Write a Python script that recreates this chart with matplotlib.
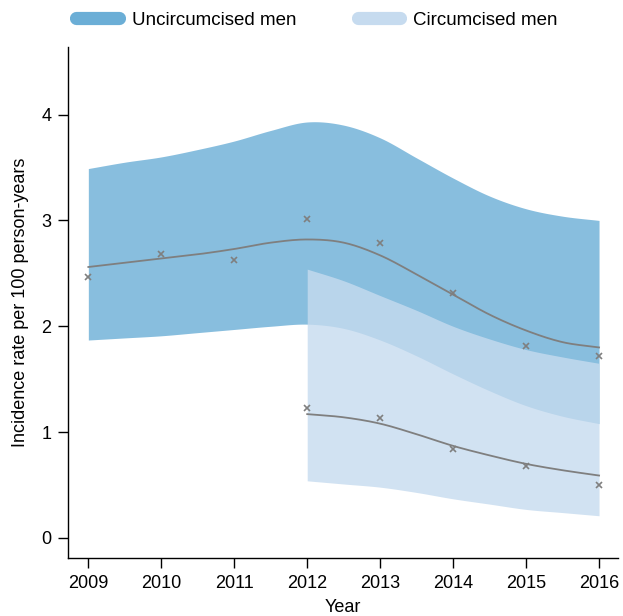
import numpy as np
import matplotlib
matplotlib.use("Agg")
import matplotlib.pyplot as plt
from matplotlib.lines import Line2D

plt.rcParams['font.family'] = ['Liberation Sans', 'DejaVu Sans']

# observed incidence (markers)
years = [2009, 2010, 2011, 2012, 2013, 2014, 2015, 2016]
obs_uncirc = [2.47, 2.68, 2.63, 3.01, 2.79, 2.31, 1.81, 1.72]
years_circ = [2012, 2013, 2014, 2015, 2016]
obs_circ = [1.23, 1.13, 0.84, 0.68, 0.50]

# fitted curves and bands, read every half year
t_uncirc = [2009, 2009.5, 2010, 2010.5, 2011, 2011.5, 2012, 2012.5,
            2013, 2013.5, 2014, 2014.5, 2015, 2015.5, 2016]
fit_uncirc = [2.56, 2.60, 2.64, 2.68, 2.73, 2.79, 2.82, 2.79,
              2.67, 2.49, 2.30, 2.11, 1.96, 1.85, 1.80]
lo_uncirc = [1.87, 1.89, 1.91, 1.94, 1.97, 2.00, 2.02, 1.98,
             1.87, 1.72, 1.55, 1.39, 1.25, 1.15, 1.08]
hi_uncirc = [3.49, 3.55, 3.60, 3.67, 3.75, 3.85, 3.93, 3.90,
             3.78, 3.59, 3.40, 3.23, 3.11, 3.04, 3.00]

t_circ = [2012, 2012.5, 2013, 2013.5, 2014, 2014.5, 2015, 2015.5, 2016]
fit_circ = [1.17, 1.14, 1.08, 0.98, 0.87, 0.78, 0.70, 0.64, 0.59]
lo_circ = [0.54, 0.51, 0.48, 0.43, 0.37, 0.32, 0.27, 0.24, 0.21]
hi_circ = [2.54, 2.43, 2.29, 2.15, 2.00, 1.88, 1.78, 1.71, 1.65]

c_uncirc = '#6baed6'
c_circ = '#c6dbef'


def smooth(t, y, n=20):
    # cubic hermite drawing through the read values
    t = np.asarray(t, float)
    y = np.asarray(y, float)
    m = np.gradient(y, t)
    xs, ys = [], []
    for i in range(len(t) - 1):
        h = t[i + 1] - t[i]
        s = np.linspace(0, 1, n, endpoint=False)
        h00 = 2 * s**3 - 3 * s**2 + 1
        h10 = s**3 - 2 * s**2 + s
        h01 = -2 * s**3 + 3 * s**2
        h11 = s**3 - s**2
        xs.append(t[i] + s * h)
        ys.append(h00 * y[i] + h10 * h * m[i] + h01 * y[i + 1] + h11 * h * m[i + 1])
    xs.append([t[-1]])
    ys.append([y[-1]])
    return np.concatenate(xs), np.concatenate(ys)


fig = plt.figure(figsize=(6.23, 6.16), dpi=100)
ax = fig.add_axes([0.109, 0.094, 0.883, 0.83])

x, lo = smooth(t_uncirc, lo_uncirc)
_, hi = smooth(t_uncirc, hi_uncirc)
ax.fill_between(x, lo, hi, color=c_uncirc, alpha=0.8, lw=0)
x2, lo2 = smooth(t_circ, lo_circ)
_, hi2 = smooth(t_circ, hi_circ)
ax.fill_between(x2, lo2, hi2, color=c_circ, alpha=0.8, lw=0)

xf, yf = smooth(t_uncirc, fit_uncirc)
ax.plot(xf, yf, color='#7f7f7f', lw=1.3)
xf2, yf2 = smooth(t_circ, fit_circ)
ax.plot(xf2, yf2, color='#7f7f7f', lw=1.3)

ax.plot(years, obs_uncirc, 'x', color='#7f7f7f', ms=4, mew=1.2)
ax.plot(years_circ, obs_circ, 'x', color='#7f7f7f', ms=4, mew=1.2)

ax.set_xlim(2008.72, 2016.26)
ax.set_ylim(-0.19, 4.64)
ax.set_xticks(years)
ax.set_yticks([0, 1, 2, 3, 4])
ax.tick_params(direction='out', length=7, width=1, labelsize=13, pad=5)
for s in ['top', 'right']:
    ax.spines[s].set_visible(False)
for s in ['left', 'bottom']:
    ax.spines[s].set_linewidth(1)
ax.set_xlabel('Year', fontsize=13, labelpad=5)
ax.set_ylabel('Incidence rate per 100 person-years', fontsize=13, labelpad=9)

handles = [Line2D([0], [0], color=c_uncirc, lw=9.5, solid_capstyle='round'),
           Line2D([0], [0], color=c_circ, lw=9.5, solid_capstyle='round')]
fig.legend(handles, ['Uncircumcised men', 'Circumcised men'], loc='center',
           bbox_to_anchor=(0.509, 0.967), ncol=2, frameon=False, fontsize=13.5,
           handlelength=2.25, handletextpad=0.7, columnspacing=3.3)

fig.savefig('out.png', dpi=100)
